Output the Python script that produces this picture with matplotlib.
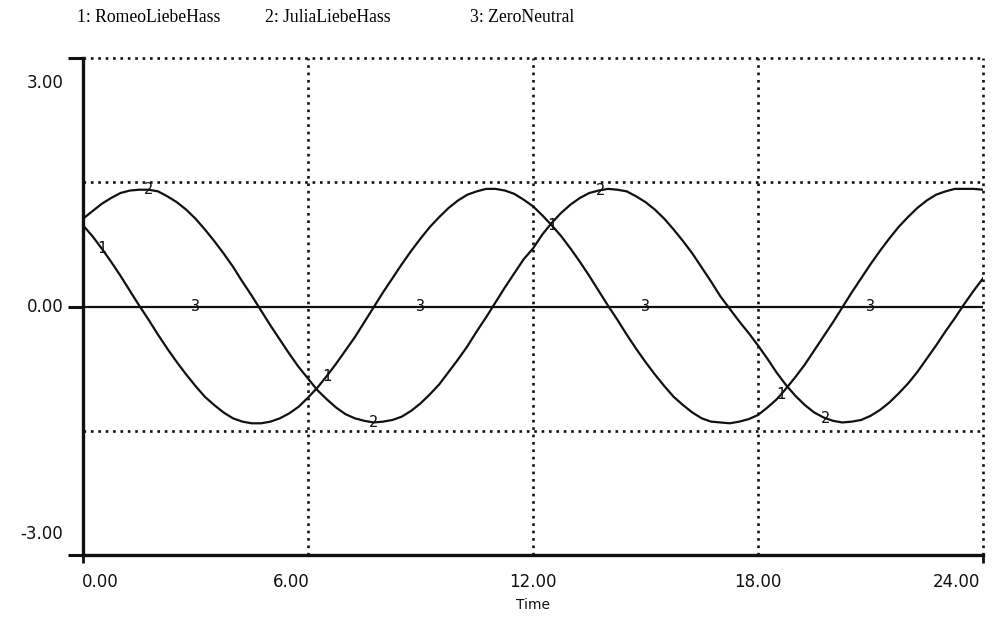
import matplotlib
matplotlib.use("Agg")
import matplotlib.pyplot as plt
import numpy as np

time = [i / 4 for i in range(97)]

romeo = [0.98, 0.85, 0.70, 0.54, 0.37, 0.19, 0.01, -0.16, -0.34, -0.51, -0.67, -0.82,
         -0.96, -1.09, -1.19, -1.28, -1.35, -1.39, -1.41, -1.41, -1.39, -1.35, -1.29, -1.21,
         -1.10, -0.98, -0.84, -0.69, -0.53, -0.37, -0.19, -0.01, 0.17, 0.34, 0.51, 0.67,
         0.82, 0.96, 1.08, 1.19, 1.28, 1.35, 1.39, 1.42, 1.42, 1.40, 1.36, 1.29,
         1.21, 1.10, 0.98, 0.85, 0.70, 0.54, 0.37, 0.19, 0.01, -0.16, -0.34, -0.51,
         -0.67, -0.82, -0.96, -1.09, -1.19, -1.28, -1.35, -1.39, -1.40, -1.41, -1.39, -1.36,
         -1.31, -1.22, -1.12, -0.99, -0.85, -0.70, -0.53, -0.36, -0.19, -0.01, 0.17, 0.34,
         0.51, 0.67, 0.82, 0.96, 1.08, 1.19, 1.28, 1.35, 1.39, 1.42, 1.42, 1.42, 1.41]

julia = [1.06, 1.15, 1.24, 1.31, 1.37, 1.40, 1.41, 1.41, 1.39, 1.33, 1.26, 1.17,
         1.06, 0.93, 0.79, 0.64, 0.48, 0.30, 0.13, -0.05, -0.23, -0.40, -0.57, -0.73,
         -0.87, -1.01, -1.12, -1.22, -1.30, -1.35, -1.38, -1.40, -1.39, -1.37, -1.33, -1.26,
         -1.17, -1.06, -0.94, -0.79, -0.64, -0.48, -0.30, -0.13, 0.05, 0.23, 0.40, 0.57,
         0.70, 0.87, 1.01, 1.13, 1.23, 1.31, 1.37, 1.40, 1.42, 1.41, 1.39, 1.33,
         1.26, 1.17, 1.06, 0.93, 0.79, 0.64, 0.47, 0.30, 0.12, -0.03, -0.18, -0.32,
         -0.47, -0.63, -0.80, -0.95, -1.08, -1.19, -1.28, -1.34, -1.38, -1.40, -1.39, -1.37,
         -1.32, -1.25, -1.16, -1.05, -0.93, -0.79, -0.63, -0.47, -0.30, -0.14, 0.03, 0.19, 0.34]

zero = [0.0] * len(time)

series_names = ["1: RomeoLiebeHass", "2: JuliaLiebeHass", "3: ZeroNeutral"]
label_times_romeo = [0.5, 6.5, 12.5, 18.6]
label_times_julia = [1.75, 7.75, 13.8, 19.8]
label_times_zero = [3.0, 9.0, 15.0, 21.0]

x_ticks = [0, 6, 12, 18, 24]
x_tick_labels = ["0.00", "6.00", "12.00", "18.00", "24.00"]
y_ticks = [3, 0, -3]
y_tick_labels = ["3.00", "0.00", "-3.00"]
y_grid = [1.5, 3.0, -1.5]

# ---- figure ----
fig = plt.figure(figsize=(9.92, 6.21), dpi=100)
ax = fig.add_axes([83 / 992, 1 - 555 / 621, 900 / 992, 497 / 621])
ax.set_xlim(0, 24)
ax.set_ylim(-3, 3)

ink = "#111111"
dot = (0, (1, 1.8))
for yv in y_grid:
    ax.axhline(yv, color=ink, lw=1.9, ls=dot, zorder=1, clip_on=False)
for xv in x_ticks[1:]:
    ax.axvline(xv, color=ink, lw=1.9, ls=dot, zorder=1, clip_on=False)

ax.plot(time, romeo, color=ink, lw=1.6, zorder=3)
ax.plot(time, julia, color=ink, lw=1.6, zorder=3)
ax.plot(time, zero, color=ink, lw=1.6, zorder=3)

lab_kw = dict(ha="center", va="center", fontsize=11, family="DejaVu Sans Mono",
              color=ink, zorder=4)
for lt in label_times_romeo:
    ax.text(lt, np.interp(lt, time, romeo), "1", **lab_kw)
for lt in label_times_julia:
    ax.text(lt, np.interp(lt, time, julia), "2", **lab_kw)
for lt in label_times_zero:
    ax.text(lt, np.interp(lt, time, zero), "3", **lab_kw)

for s in ["top", "right"]:
    ax.spines[s].set_visible(False)
for s in ["left", "bottom"]:
    ax.spines[s].set_linewidth(2.4)
    ax.spines[s].set_color(ink)

ax.set_xticks([0, 24])
ax.set_yticks(y_ticks)
ax.set_xticklabels([])
ax.set_yticklabels([])
ax.tick_params(axis="y", direction="out", length=11, width=2.2, color=ink)
ax.tick_params(axis="x", direction="out", length=6, width=2.0, color=ink)

# tick labels placed like the original printout
xlab_pos = [0.45, 5.55, 12.0, 18.0, 23.3]
for xp, lab in zip(xlab_pos, x_tick_labels):
    ax.text(xp, -0.055, lab, transform=ax.get_xaxis_transform(), ha="center",
            va="center", fontsize=12, color=ink)
ylab_pos = [2.7, 0.0, -2.75]
for yp, lab in zip(ylab_pos, y_tick_labels):
    ax.text(-0.022, yp, lab, transform=ax.get_yaxis_transform(), ha="right",
            va="center", fontsize=12, color=ink)

fig.text(533 / 992, 1 - 605 / 621, "Time", ha="center", va="center", fontsize=10, color=ink)

title_x = [77, 265, 470]
for tx, name in zip(title_x, series_names):
    fig.text(tx / 992, 1 - 18 / 621, name, ha="left", va="center", fontsize=12.7,
             family="Liberation Serif", color="black")

fig.savefig("out.png", dpi=100)
